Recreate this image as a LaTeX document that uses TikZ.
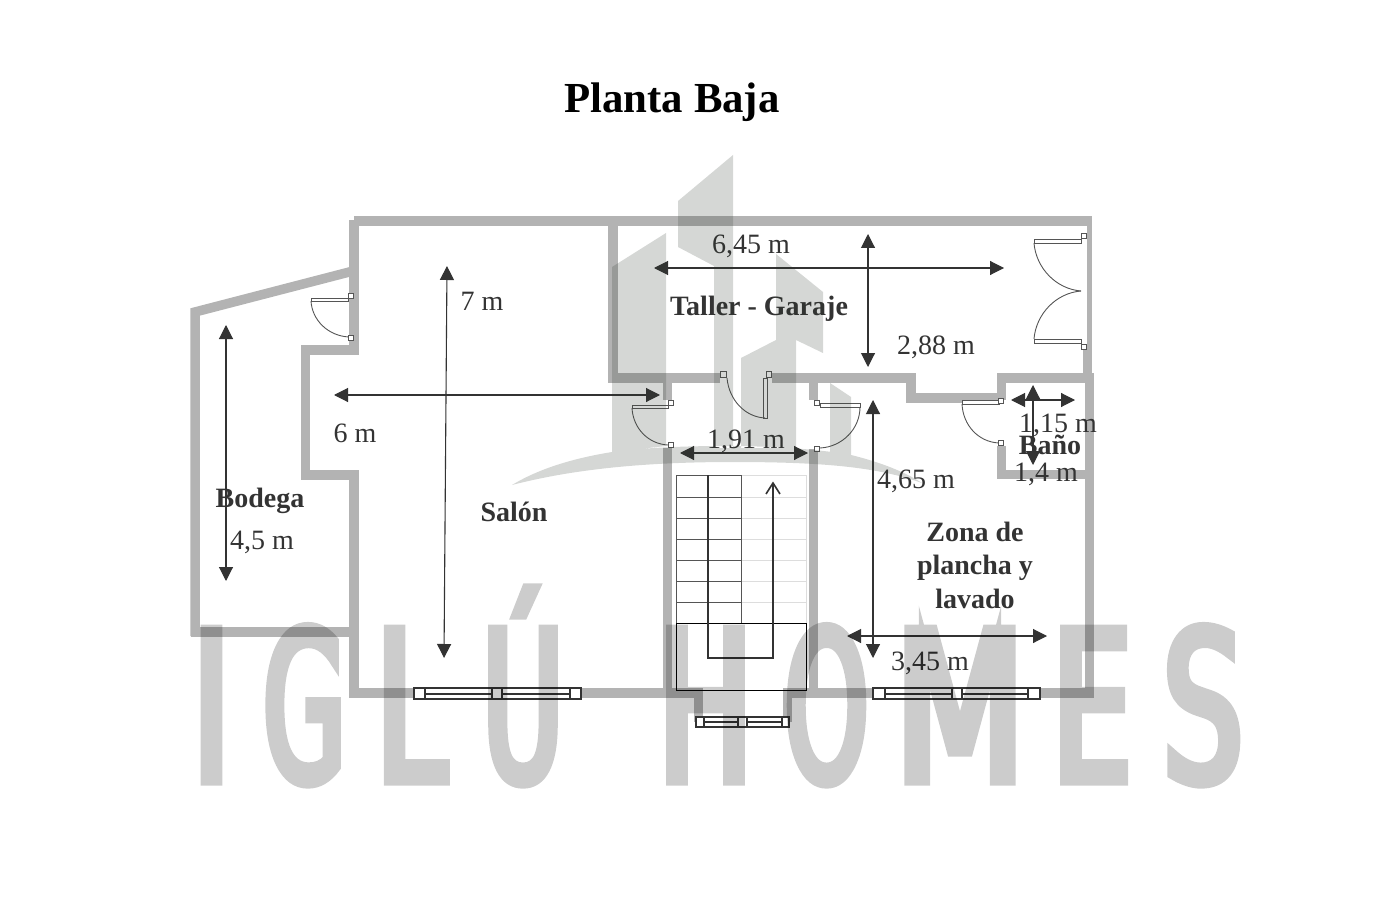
\documentclass[tikz,border=0pt]{standalone}
\usepackage{fontspec}
\setmainfont{Liberation Serif}
\newfontfamily\markfont[FakeStretch=0.6,FakeBold=4.5]{DejaVu Sans}
\usetikzlibrary{arrows.meta,positioning}
\definecolor{wallgray}{RGB}{179,179,179}
\definecolor{inkgray}{RGB}{51,51,51}
\definecolor{linegray}{RGB}{85,85,85}
\definecolor{treadgray}{RGB}{221,221,221}
\definecolor{logogreen}{RGB}{45,55,45}
\tikzstyle{wall} = [line width=9.5pt,color=wallgray,line join=miter,line cap=butt]
\tikzstyle{arrow} = [line width=1.1pt,{Triangle[length=14pt,width=14pt]}-{Triangle[length=14pt,width=14pt]},color=inkgray]
\tikzstyle{hinge} = [rectangle,draw=linegray,fill=white,line width=0.7pt,minimum size=5.5pt,inner sep=0pt]
\tikzstyle{leaf} = [draw=linegray,fill=white,line width=0.7pt]
\tikzstyle{swing} = [draw=linegray,line width=0.9pt]
\tikzstyle{dimlabel} = [text=inkgray,inner sep=0pt,font=\fontsize{28}{33.5}\selectfont]
\tikzstyle{roomlabel} = [text=inkgray,inner sep=0pt,align=center,font=\fontsize{28}{33.5}\selectfont\bfseries]
\tikzstyle{markletter} = [inner sep=0pt,anchor=base,text=black,font=\fontsize{208}{208}\markfont]
\begin{document}
\begin{tikzpicture}[x=1pt,y=-1pt]
\useasboundingbox (0,0) rectangle (1390,920);
% Walls
\draw[wall] (354,220) -- (354,350) -- (305.5,350) -- (305.5,475) -- (354,475) -- (354,693) -- (698.5,693) -- (698.5,722);
\draw[wall] (787.5,722) -- (787.5,693) -- (1094,693);
\draw[wall] (354,221) -- (1092,221);
\draw[wall,line width=5pt] (1089.5,217) -- (1089.5,350);
\draw[wall] (1087.5,347) -- (1087.5,378);
\draw[wall] (195,636) -- (195,312) -- (357,270);
\draw[wall] (191,632) -- (352,632);
\draw[wall] (613,221) -- (613,378) -- (720,378);
\draw[wall] (772,378) -- (911,378) -- (911,398) -- (1001.5,398);
\draw[wall] (1001.5,373.5) -- (1001.5,400);
\draw[wall] (1001.5,446) -- (1001.5,474.5) -- (1094,474.5);
\draw[wall] (997,378) -- (1094,378);
\draw[wall] (1089.5,373.5) -- (1089.5,697);
\draw[wall] (667.5,378) -- (667.5,400);
\draw[wall] (667.5,448) -- (667.5,693);
\draw[wall] (813.5,378) -- (813.5,400);
\draw[wall] (813.5,449) -- (813.5,693);
% Doors
\draw[leaf] (311,298) rectangle (348,301);
\draw[swing] (311,301) .. controls (312,320) and (328,336) .. (349,337);
\draw[leaf] (632,405) rectangle (668,408);
\draw[swing] (632,408) .. controls (633,428) and (648,444) .. (668,445);
\draw[leaf] (763,378) rectangle (767,418);
\draw[swing] (727,378) .. controls (729,400) and (745,417) .. (765,418);
\draw[leaf] (820,403) rectangle (860,407);
\draw[swing] (860,407) .. controls (860,429) and (842,447) .. (820,448);
\draw[leaf] (962,400) rectangle (999,404);
\draw[swing] (962,404) .. controls (963,425) and (978,442) .. (999,443);
\draw[leaf] (1034,239) rectangle (1081,243);
\draw[leaf] (1034,339) rectangle (1081,343);
\draw[swing] (1034,243) .. controls (1036,268) and (1056,289) .. (1081,291);
\draw[swing] (1034,339) .. controls (1036,314) and (1056,293) .. (1081,291);
\foreach \hingename/\hx/\hy in {ha/351/296,hb/351/338,hc/671/403,hd/671/445,he/723.5/374.5,hf/769/374.5,hg/817/403,hh/817/449,hi/1001/401,hj/1001/443,hk/1084/236,hl/1084/347}
  \node[hinge] (\hingename) at (\hx,\hy) {};
% Stairs
\foreach \ty in {497,518,539,560,581,602}
  \draw[treadgray,line width=1pt] (741,\ty) -- (806,\ty);
\draw[treadgray,line width=1pt] (741,475) -- (806,475) -- (806,623);
\foreach \ty in {497,518,539,560,581,602}
  \draw[linegray,line width=1pt] (676,\ty) -- (741,\ty);
\draw[linegray,line width=1pt] (741,623) -- (741,475) -- (676,475) -- (676,623);
\draw[black,line width=1pt] (676,623) rectangle (806,690);
\draw[inkgray,line width=1.6pt] (708,475) -- (708,658) -- (773,658) -- (773,483);
\draw[inkgray,line width=1.6pt] (766,494) -- (773,483) -- (780,494);
% Windows
\foreach \xa/\xb/\xc/\xd/\xe/\xf/\ya/\yb/\yc in {414/425/492/502/570/581/688/694/699,873/885/952/962/1028/1040/688/694/699,696/704/738/747/782/789/717/722/727}{
  \draw[draw=inkgray,fill=white,line width=1.3pt] (\xa,\ya) rectangle (\xf,\yc);
  \draw[inkgray,line width=1.3pt] (\xb,\ya) -- (\xb,\yc) (\xc,\ya) -- (\xc,\yc) (\xd,\ya) -- (\xd,\yc) (\xe,\ya) -- (\xe,\yc);
  \draw[inkgray,line width=1.6pt] (\xb,\yb) -- (\xc,\yb) (\xd,\yb) -- (\xe,\yb);
}
% Dimensions
\draw[arrow] (447,266) -- (444,658);
\draw[arrow] (334,395) -- (660,395);
\draw[arrow] (226,325) -- (226,581);
\draw[arrow] (654,268) -- (1004,268);
\draw[arrow] (868,234) -- (868,367);
\draw[arrow] (680,453) -- (808,453);
\draw[arrow] (873,400) -- (873,658);
\draw[arrow] (847,636) -- (1047,636);
\draw[arrow] (1011,400) -- (1075,400);
\draw[arrow] (1033,385) -- (1033,465);
% Labels
\node[dimlabel] (lsalonh) at (482,301.5) {7 m};
\node[dimlabel] (lsalonw) at (355,433) {6 m};
\node[dimlabel] (lbodega) at (262,542) {4,5 m};
\node[dimlabel] (ltallerw) at (751,246) {6,45 m};
\node[dimlabel] (ltallerh) at (936,347) {2,88 m};
\node[dimlabel] (lhall) at (746,441) {1,91 m};
\node[dimlabel] (lzonah) at (916,481) {4,65 m};
\node[dimlabel] (lzonaw) at (930,663) {3,45 m};
\node[dimlabel] (lbanow) at (1058,425) {1,15 m};
\node[dimlabel] (lbanoh) at (1046,474) {1,4 m};
\node[roomlabel] (bodega) at (260,501) {Bodega};
\node[roomlabel] (salon) at (514,512) {Salón};
\node[roomlabel] (taller) at (759,309) {Taller - Garaje};
\node[roomlabel] (bano) at (1050,445) {Baño};
\node[roomlabel] (zona) at (975,565) {Zona de\\plancha y\\lavado};
\node[inner sep=0pt,font=\fontsize{42.8}{50}\selectfont\bfseries] (title) at (672,102) {Planta Baja};
% Watermark
\fill[logogreen,opacity=0.2] (733,155) -- (678,201) -- (678,247) -- (714,266) -- (714,448) -- (733,448) -- cycle
  (666,233) -- (612,267) -- (612,452) -- (666,446) -- cycle
  (776,254) -- (776,340) -- (741,358) -- (741,448) -- (796,448) -- (796,340) -- (823,353) -- (823,292) -- cycle
  (830,383) -- (851,397) -- (851,455) -- (830,452) -- cycle
  (512,485) .. controls (540,468) and (575,458) .. (612,452) .. controls (660,445) and (780,442) .. (851,455) .. controls (880,462) and (905,472) .. (922,483) .. controls (880,468) and (830,462) .. (733,462) .. controls (640,462) and (570,470) .. (512,485) -- cycle;
\begin{scope}[transparency group,opacity=0.2,line join=bevel]
\node[markletter] (markI) at (211.5,781) {I};
\node[markletter] (markG) at (304.5,781) {\scalebox{0.85}[1]{G}};
\node[markletter] (markL) at (411,781) {L};
\node[markletter] (markU) at (523,781) {\scalebox{0.88}[1]{Ú}};
\node[markletter] (markH) at (705.5,781) {H};
\node[markletter] (markO) at (826.5,781) {\scalebox{0.85}[1]{O}};
\node[markletter] (markM) at (960,781) {\scalebox{1.2}[1]{M}};
\node[markletter] (markE) at (1092,781) {E};
\node[markletter] (markS) at (1203,781) {S};
\end{scope}
\end{tikzpicture}
\end{document}
